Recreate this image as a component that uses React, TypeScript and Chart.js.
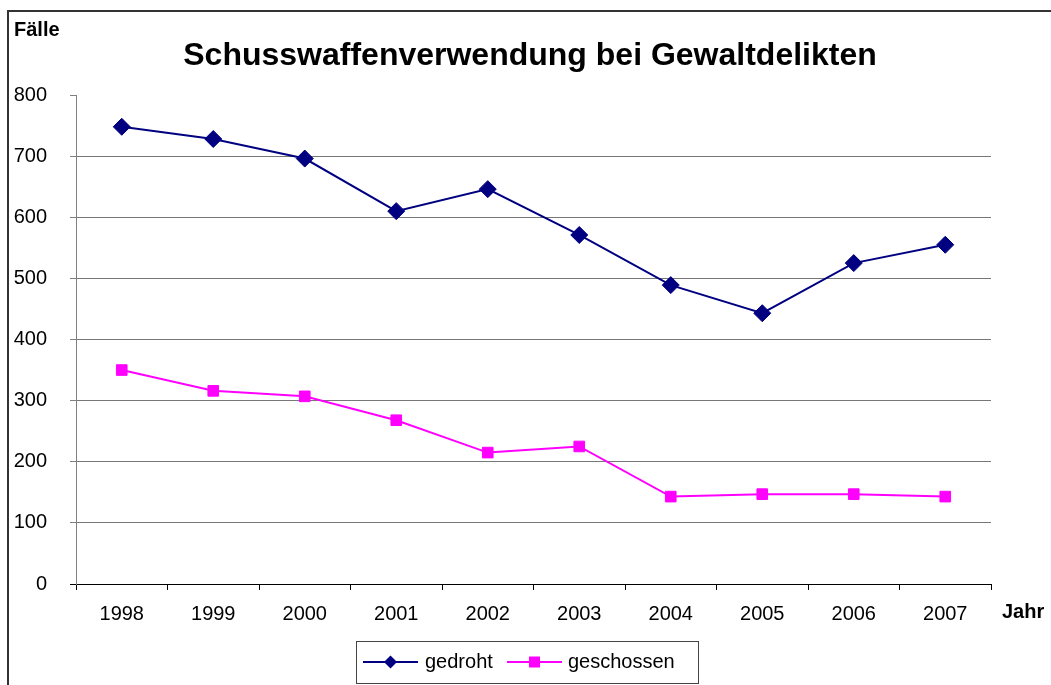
import React, { useEffect, useRef } from "react";
import { Chart, registerables } from "chart.js";

Chart.register(...registerables);

const chartTitle = "Schusswaffenverwendung bei Gewaltdelikten";
const yAxisTitle = "Fälle";
const xAxisTitle = "Jahr";
const years = ["1998", "1999", "2000", "2001", "2002", "2003", "2004", "2005", "2006", "2007"];
const gedroht = [748, 728, 696, 610, 646, 571, 489, 443, 525, 555];
const geschossen = [350, 316, 307, 268, 215, 225, 143, 147, 147, 143];
const seriesNames = ["gedroht", "geschossen"];
const yMin = 0;
const yMax = 800;
const yStep = 100;

const FONT = '"Liberation Sans", Arial, sans-serif';

const decorPlugin = {
  id: "decor",
  beforeDraw(chart: any) {
    const ctx = chart.ctx;
    ctx.save();
    ctx.fillStyle = "#ffffff";
    ctx.fillRect(0, 0, chart.width, chart.height);
    ctx.fillStyle = "#333333";
    ctx.fillRect(7, 10, chart.width - 7, 2);
    ctx.fillRect(7, 10, 2, chart.height - 10);
    ctx.restore();
  },
  afterDraw(chart: any) {
    const ctx = chart.ctx;
    ctx.save();
    ctx.fillStyle = "#000000";
    ctx.textBaseline = "alphabetic";
    ctx.font = `bold 32px ${FONT}`;
    ctx.textAlign = "center";
    ctx.fillText(chartTitle, 530, 65);
    ctx.font = `bold 20px ${FONT}`;
    ctx.textAlign = "left";
    ctx.fillText(yAxisTitle, 14, 36);
    ctx.fillText(xAxisTitle, 1002, 618);

    // legend
    const bx = 356.5, by = 641.5, bw = 342, bh = 42;
    ctx.strokeStyle = "#444444";
    ctx.lineWidth = 1;
    ctx.strokeRect(bx, by, bw, bh);
    const cy = 662;
    const items = [
      { x0: 363, x1: 418, tx: 425 },
      { x0: 507, x1: 562, tx: 568 },
    ];
    chart.data.datasets.forEach((ds: any, i: number) => {
      const it = items[i];
      ctx.strokeStyle = ds.borderColor;
      ctx.lineWidth = 2;
      ctx.beginPath();
      ctx.moveTo(it.x0, cy);
      ctx.lineTo(it.x1, cy);
      ctx.stroke();
      const mx = (it.x0 + it.x1) / 2;
      ctx.fillStyle = ds.pointBackgroundColor;
      ctx.beginPath();
      if (ds.pointStyle === "rectRot") {
        const r = 6.5;
        ctx.moveTo(mx - r, cy);
        ctx.lineTo(mx, cy - r);
        ctx.lineTo(mx + r, cy);
        ctx.lineTo(mx, cy + r);
        ctx.closePath();
      } else {
        ctx.rect(mx - 5.5, cy - 5.5, 11, 11);
      }
      ctx.fill();
      ctx.fillStyle = "#000000";
      ctx.font = `20px ${FONT}`;
      ctx.textBaseline = "middle";
      ctx.fillText(ds.label, it.tx, cy);
    });
    ctx.restore();
  },
};

export default function App() {
  const ref = useRef<HTMLCanvasElement>(null);
  useEffect(() => {
    if (!ref.current) return;
    const chart = new Chart(ref.current, {
      type: "line",
      data: {
        labels: years,
        datasets: [
          {
            label: seriesNames[0],
            data: gedroht,
            borderColor: "#000080",
            backgroundColor: "#000080",
            pointBackgroundColor: "#000080",
            pointBorderColor: "#000080",
            pointStyle: "rectRot",
            pointRadius: 8.5,
            pointBorderWidth: 1,
            borderWidth: 2,
            tension: 0,
          },
          {
            label: seriesNames[1],
            data: geschossen,
            borderColor: "#FF00FF",
            backgroundColor: "#FF00FF",
            pointBackgroundColor: "#FF00FF",
            pointBorderColor: "#FF00FF",
            pointStyle: "rect",
            pointRadius: 7.5,
            pointBorderWidth: 1,
            borderWidth: 2,
            tension: 0,
          },
        ],
      },
      options: {
        responsive: false,
        animation: false,
        devicePixelRatio: 1,
        layout: { padding: { left: 0, right: 60, top: 95, bottom: 0 } },
        plugins: {
          legend: { display: false },
          title: { display: false },
          tooltip: { enabled: false },
        },
        scales: {
          x: {
            type: "category",
            offset: true,
            afterFit: (s: any) => {
              s.height = 101;
            },
            border: { display: true, color: "#000000", width: 1 },
            grid: {
              offset: true,
              drawOnChartArea: false,
              drawTicks: true,
              tickLength: 6,
              tickColor: "#000000",
            },
            ticks: {
              color: "#000000",
              font: { family: FONT, size: 20 },
              padding: 12,
              maxRotation: 0,
            },
          },
          y: {
            min: yMin,
            max: yMax,
            afterFit: (s: any) => {
              s.width = 76;
            },
            border: { display: true, color: "#808080", width: 1 },
            grid: {
              color: (c: any) =>
                c.tick && (c.tick.value === yMax || c.tick.value === yMin) ? "rgba(0,0,0,0)" : "#777777",
              tickColor: (c: any) => (c.tick && c.tick.value === yMin ? "#000000" : "#808080"),
              tickLength: 6,
              lineWidth: 1,
            },
            ticks: {
              stepSize: yStep,
              color: "#000000",
              font: { family: FONT, size: 20 },
              padding: 23,
            },
          },
        },
      },
      plugins: [decorPlugin],
    } as any);
    return () => chart.destroy();
  }, []);
  return (
    <div style={{ position: "fixed", left: 0, top: 0, width: 1051, height: 685 }}>
      <canvas ref={ref} width={1051} height={685} style={{ display: "block" }} />
    </div>
  );
}
